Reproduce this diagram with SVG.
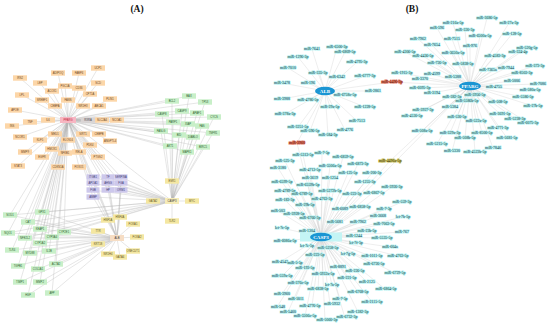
<svg xmlns="http://www.w3.org/2000/svg" width="550" height="326" viewBox="0 0 550 326">
<style>
.t{font-family:"Liberation Serif",serif;font-weight:bold;font-size:9.5px;fill:#111;text-anchor:middle}
.e{fill:none;stroke:#b8b8b8;stroke-width:.35}
.eb{fill:none;stroke:#cfcfcf;stroke-width:.35}
.n text{font-family:"Liberation Sans",sans-serif;font-size:2.7px;text-anchor:middle}
.o rect{fill:#fcd6a8}.o text{fill:#6b4420}
.g rect{fill:#c8efc8}.g text{fill:#2d5e2d}
.p rect{fill:#cdc8ec}.p text{fill:#3c3870}
.y rect{fill:#f4e7a2}.y text{fill:#5e5220}
.m text{font-family:"Liberation Serif",serif;font-size:3.9px;text-anchor:middle;fill:#1d3440;stroke:#aef2f2;stroke-width:1.2;paint-order:stroke;stroke-linejoin:round}
.m.r text{stroke:#e0705a;fill:#5a1a10}
.m.v text{stroke:#c9bf5a;fill:#3a3410}
.h ellipse{fill:#1b95d3}
.h text{font-family:"Liberation Serif",serif;font-size:5px;font-weight:bold;fill:#fff;text-anchor:middle}
</style>
<rect width="550" height="326" fill="#fff"/>
<text class="t" x="137" y="12">(A)</text>
<text class="t" x="412" y="12">(B)</text>

<g id="connectors">
<path class="e" d="M68 120L20 78M68 120L40 83M68 120L58 73M68 120L79 73M68 120L98 68M68 120L65 86M68 120L79 88M68 120L98 83M68 120L22 95M68 120L52 91M68 120L90 94M68 120L42 100M68 120L68 100M68 120L110 99M68 120L55 106M68 120L83 106M68 120L99 106M68 120L15 110M68 120L48 120M68 120L30 122M68 120L12 126M68 120L88 120M68 120L102 120M68 120L117 120M68 120L20 137M68 120L55 134M68 120L83 134M68 120L99 134M68 120L40 140M68 120L68 140M68 120L110 141M68 120L90 145M68 120L52 149M68 120L25 152M68 120L65 153M68 120L79 152M68 120L98 157M68 120L42 157M68 120L58 167M68 120L79 167M68 120L18 166"/>
<path class="e" d="M68 120L172 101M68 120L189 96M68 120L205 102M68 120L162 114M68 120L182 111M68 120L197 113M68 120L214 117M68 120L173 122M68 120L188 124M68 120L202 126M68 120L161 131M68 120L179 135M68 120L193 137M68 120L213 133M68 120L170 146M68 120L187 152M68 120L203 147M68 120L172 201M68 120L117 238M68 120L93 177M68 120L108 177M68 120L121 177M68 120L93 183M68 120L108 183M68 120L121 183M68 120L93 190M68 120L108 190M68 120L121 190M68 120L93 197M68 120L10 215M68 120L28 222M68 120L42 212M68 120L8 233M68 120L25 238M68 120L40 229M68 120L64 232M68 120L52 237M68 120L40 243M68 120L12 250M68 120L30 253M68 120L49 251M68 120L18 266M68 120L38 269M68 120L56 264M68 120L20 282M68 120L40 282M68 120L28 295M68 120L52 293"/>
<path class="e" d="M172 201L172 101M172 201L189 96M172 201L205 102M172 201L162 114M172 201L182 111M172 201L197 113M172 201L214 117M172 201L173 122M172 201L188 124M172 201L202 126M172 201L161 131M172 201L179 135M172 201L193 137M172 201L213 133M172 201L170 146M172 201L187 152M172 201L203 147M172 201L172 181M172 201L153 201M172 201L192 201M172 201L172 221M172 201L93 177M172 201L108 177M172 201L121 177M172 201L93 183M172 201L108 183M172 201L121 183M172 201L93 190M172 201L108 190M172 201L121 190M172 201L93 197M172 201L10 215M172 201L42 212M172 201L28 222M172 201L40 229M172 201L64 232M172 201L8 233M172 201L52 237M172 201L25 238"/>
<path class="e" d="M117 238L108 220M117 238L120 217M117 238L133 224M117 238L137 237M117 238L133 251M117 238L120 257M117 238L108 254M117 238L98 244M117 238L98 231M117 238L93 177M117 238L108 177M117 238L121 177M117 238L93 183M117 238L108 183M117 238L121 183M117 238L93 190M117 238L108 190M117 238L121 190M117 238L93 197M117 238L10 215M117 238L28 222M117 238L42 212M117 238L8 233M117 238L25 238M117 238L40 229M117 238L64 232M117 238L52 237M117 238L40 243M117 238L12 250M117 238L30 253M117 238L49 251M117 238L18 266M117 238L38 269M117 238L56 264M117 238L20 282M117 238L40 282M117 238L28 295M117 238L52 293"/>
<path class="eb" d="M325 91L337 47M325 91L312 49M325 91L345 52M325 91L298 57M325 91L357 62M325 91L288 68M325 91L318 73M325 91L337 77M325 91L365 76M325 91L282 83M325 91L308 83M325 91L373 91M325 91L345 95M325 91L282 99M325 91L308 100M325 91L330 107M325 91L365 107M325 91L285 114M325 91L357 121M325 91L298 127M325 91L310 131M325 91L345 130M325 91L328 135M325 91L297 143M325 91L392 82"/>
<path class="eb" d="M470 86L487 18M470 86L453 23M470 86L509 23M470 86L437 28M470 86L465 30M470 86L512 34M470 86L480 36M470 86L418 39M470 86L452 39M470 86L432 45M470 86L470 46M470 86L527 48M470 86L453 53M470 86L405 52M470 86L423 56M470 86L495 56M470 86L518 52M470 86L437 63M470 86L463 64M470 86L535 66M470 86L488 70M470 86L506 68M470 86L520 73M470 86L432 74M470 86L402 73M470 86L453 77M470 86L420 79M470 86L512 81M470 86L538 84M470 86L492 87M470 86L530 90M470 86L420 88M470 86L432 93M470 86L452 97M470 86L473 97M470 86L523 97M470 86L467 101M470 86L498 102M470 86L450 107M470 86L423 110M470 86L533 106M470 86L412 116M470 86L457 117M470 86L476 121M470 86L500 114M470 86L515 119M470 86L528 123M470 86L422 131M470 86L498 128M470 86L450 133M470 86L482 133M470 86L507 138M470 86L465 138M470 86L437 144M470 86L493 148M470 86L452 151M470 86L475 152M470 86L392 82M470 86L390 161M470 86L321 237"/>
<path class="eb" d="M321 237L322 153M321 237L303 155M321 237L343 157M321 237L285 161M321 237L358 164M321 237L330 166M321 237L278 168M321 237L310 170M321 237L348 173M321 237L372 173M321 237L282 182M321 237L310 178M321 237L330 178M321 237L365 182M321 237L308 185M321 237L392 187M321 237L285 191M321 237L330 191M321 237L302 194M321 237L350 194M321 237L372 193M321 237L285 200M321 237L322 199M321 237L305 205M321 237L402 202M321 237L278 211M321 237L292 214M321 237L340 209M321 237L360 207M321 237L383 209M321 237L310 218M321 237L335 222M321 237L360 222M321 237L378 216M321 237L402 217M321 237L383 224M321 237L282 228M321 237L307 231M321 237L367 231M321 237L402 232M321 237L352 236M321 237L382 238M321 237L285 241M321 237L307 246M321 237L355 243M321 237L325 248M321 237L390 247M321 237L315 255M321 237L348 254M321 237L370 256M321 237L398 256M321 237L280 262M321 237L294 263M321 237L303 268M321 237L340 267M321 237L353 271M321 237L372 264M321 237L282 276M321 237L323 274M321 237L347 278M321 237L395 273M321 237L298 283M321 237L332 285M321 237L367 282M321 237L282 294M321 237L318 289M321 237L358 292M321 237L385 289M321 237L295 299M321 237L340 299M321 237L372 302M321 237L277 307M321 237L312 306M321 237L330 304M321 237L288 312M321 237L358 312M321 237L305 316M321 237L325 320M321 237L345 318M321 237L297 143M321 237L390 161"/>
</g>

<!-- Panel A: orange cluster -->
<g id="a-hub-pparg" class="n"><rect x="60" y="117" width="16" height="6" fill="#f7b6c2"/><text x="68" y="121" fill="#c0203a">PPARG</text></g>
<g id="a-irs2" class="n o"><rect x="13" y="75.3" width="14" height="5.4"/><text x="20" y="79">IRS2</text></g>
<g id="a-lep" class="n o"><rect x="33" y="80.3" width="14" height="5.4"/><text x="40" y="84">LEP</text></g>
<g id="a-adipoq" class="n o"><rect x="51" y="70.3" width="14" height="5.4"/><text x="58" y="74">ADIPOQ</text></g>
<g id="a-fabp4" class="n o"><rect x="72" y="70.3" width="14" height="5.4"/><text x="79" y="74">FABP4</text></g>
<g id="a-ucp1" class="n o"><rect x="91" y="65.3" width="14" height="5.4"/><text x="98" y="69">UCP1</text></g>
<g id="a-pgc1a" class="n o"><rect x="58" y="83.3" width="14" height="5.4"/><text x="65" y="87">PGC1A</text></g>
<g id="a-cd36" class="n o"><rect x="72" y="85.3" width="14" height="5.4"/><text x="79" y="89">CD36</text></g>
<g id="a-scd" class="n o"><rect x="91" y="80.3" width="14" height="5.4"/><text x="98" y="84">SCD</text></g>
<g id="a-lpl" class="n o"><rect x="15" y="92.3" width="14" height="5.4"/><text x="22" y="96">LPL</text></g>
<g id="a-acox1" class="n o"><rect x="45" y="88.3" width="14" height="5.4"/><text x="52" y="92">ACOX1</text></g>
<g id="a-cpt1a" class="n o"><rect x="83" y="91.3" width="14" height="5.4"/><text x="90" y="95">CPT1A</text></g>
<g id="a-srebf1" class="n o"><rect x="35" y="97.3" width="14" height="5.4"/><text x="42" y="101">SREBF1</text></g>
<g id="a-fasn" class="n o"><rect x="61" y="97.3" width="14" height="5.4"/><text x="68" y="101">FASN</text></g>
<g id="a-plin1" class="n o"><rect x="103" y="96.3" width="14" height="5.4"/><text x="110" y="100">PLIN1</text></g>
<g id="a-cebpa" class="n o"><rect x="48" y="103.3" width="14" height="5.4"/><text x="55" y="107">CEBPA</text></g>
<g id="a-nr1h3" class="n o"><rect x="76" y="103.3" width="14" height="5.4"/><text x="83" y="107">NR1H3</text></g>
<g id="a-abca1" class="n o"><rect x="92" y="103.3" width="14" height="5.4"/><text x="99" y="107">ABCA1</text></g>
<g id="a-apoe" class="n o"><rect x="8" y="107.3" width="14" height="5.4"/><text x="15" y="111">APOE</text></g>
<g id="a-il6" class="n o"><rect x="41" y="117.3" width="14" height="5.4"/><text x="48" y="121">IL6</text></g>
<g id="a-tnf" class="n o"><rect x="23" y="119.3" width="14" height="5.4"/><text x="30" y="123">TNF</text></g>
<g id="a-ins" class="n o"><rect x="5" y="123.3" width="14" height="5.4"/><text x="12" y="127">INS</text></g>
<g id="a-rxra" class="n"><rect x="81" y="117.3" width="14" height="5.4" fill="#d9d4d4"/><text x="88" y="121" fill="#444">RXRA</text></g>
<g id="a-slc2a4" class="n o"><rect x="95" y="117.3" width="14" height="5.4"/><text x="102" y="121">SLC2A4</text></g>
<g id="a-ncoa1" class="n o"><rect x="110" y="117.3" width="14" height="5.4"/><text x="117" y="121">NCOA1</text></g>
<g id="a-ncor1" class="n o"><rect x="13" y="134.3" width="14" height="5.4"/><text x="20" y="138">NCOR1</text></g>
<g id="a-med1" class="n o"><rect x="48" y="131.3" width="14" height="5.4"/><text x="55" y="135">MED1</text></g>
<g id="a-sirt1" class="n o"><rect x="76" y="131.3" width="14" height="5.4"/><text x="83" y="135">SIRT1</text></g>
<g id="a-cebpb" class="n o"><rect x="92" y="131.3" width="14" height="5.4"/><text x="99" y="135">CEBPB</text></g>
<g id="a-klf5" class="n o"><rect x="33" y="137.3" width="14" height="5.4"/><text x="40" y="141">KLF5</text></g>
<g id="a-elovl6" class="n o"><rect x="61" y="137.3" width="14" height="5.4"/><text x="68" y="141">ELOVL6</text></g>
<g id="a-angptl4" class="n o"><rect x="103" y="138.3" width="14" height="5.4"/><text x="110" y="142">ANGPTL4</text></g>
<g id="a-pdk4" class="n o"><rect x="83" y="142.3" width="14" height="5.4"/><text x="90" y="146">PDK4</text></g>
<g id="a-hmox1" class="n o"><rect x="45" y="146.3" width="14" height="5.4"/><text x="52" y="150">HMOX1</text></g>
<g id="a-mmp9" class="n o"><rect x="18" y="149.3" width="14" height="5.4"/><text x="25" y="153">MMP9</text></g>
<g id="a-nfkb1" class="n o"><rect x="58" y="150.3" width="14" height="5.4"/><text x="65" y="154">NFKB1</text></g>
<g id="a-rela" class="n o"><rect x="72" y="149.3" width="14" height="5.4"/><text x="79" y="153">RELA</text></g>
<g id="a-ptgs2" class="n o"><rect x="91" y="154.3" width="14" height="5.4"/><text x="98" y="158">PTGS2</text></g>
<g id="a-egfr" class="n o"><rect x="35" y="154.3" width="14" height="5.4"/><text x="42" y="158">EGFR</text></g>
<g id="a-cdkn1a" class="n o"><rect x="51" y="164.3" width="14" height="5.4"/><text x="58" y="168">CDKN1A</text></g>
<g id="a-foxo1" class="n o"><rect x="72" y="164.3" width="14" height="5.4"/><text x="79" y="168">FOXO1</text></g>
<g id="a-stat3" class="n o"><rect x="11" y="163.3" width="14" height="5.4"/><text x="18" y="167">STAT3</text></g>

<!-- Panel A: green right cluster -->
<g id="a-bcl2" class="n g"><rect x="165" y="98.3" width="14" height="5.4"/><text x="172" y="102">BCL2</text></g>
<g id="a-bax" class="n g"><rect x="182" y="93.3" width="14" height="5.4"/><text x="189" y="97">BAX</text></g>
<g id="a-tp53" class="n g"><rect x="198" y="99.3" width="14" height="5.4"/><text x="205" y="103">TP53</text></g>
<g id="a-casp8" class="n g"><rect x="155" y="111.3" width="14" height="5.4"/><text x="162" y="115">CASP8</text></g>
<g id="a-casp9" class="n g"><rect x="175" y="108.3" width="14" height="5.4"/><text x="182" y="112">CASP9</text></g>
<g id="a-apaf1" class="n g"><rect x="190" y="110.3" width="14" height="5.4"/><text x="197" y="114">APAF1</text></g>
<g id="a-cycs" class="n g"><rect x="207" y="114.3" width="14" height="5.4"/><text x="214" y="118">CYCS</text></g>
<g id="a-parp1" class="n g"><rect x="166" y="119.3" width="14" height="5.4"/><text x="173" y="123">PARP1</text></g>
<g id="a-xiap" class="n g"><rect x="181" y="121.3" width="14" height="5.4"/><text x="188" y="125">XIAP</text></g>
<g id="a-fas" class="n g"><rect x="195" y="123.3" width="14" height="5.4"/><text x="202" y="127">FAS</text></g>
<g id="a-faslg" class="n g"><rect x="154" y="128.3" width="14" height="5.4"/><text x="161" y="132">FASLG</text></g>
<g id="a-bid" class="n g"><rect x="172" y="132.3" width="14" height="5.4"/><text x="179" y="136">BID</text></g>
<g id="a-diablo" class="n g"><rect x="186" y="134.3" width="14" height="5.4"/><text x="193" y="138">DIABLO</text></g>
<g id="a-tnfr1" class="n g"><rect x="206" y="130.3" width="14" height="5.4"/><text x="213" y="134">TNFR1</text></g>
<g id="a-akt1" class="n g"><rect x="163" y="143.3" width="14" height="5.4"/><text x="170" y="147">AKT1</text></g>
<g id="a-mapk1" class="n g"><rect x="180" y="149.3" width="14" height="5.4"/><text x="187" y="153">MAPK1</text></g>
<g id="a-birc5" class="n g"><rect x="196" y="144.3" width="14" height="5.4"/><text x="203" y="148">BIRC5</text></g>

<!-- Panel A: green left cluster -->
<g id="a-sod1" class="n g"><rect x="3" y="212.3" width="14" height="5.4"/><text x="10" y="216">SOD1</text></g>
<g id="a-cat" class="n g"><rect x="21" y="219.3" width="14" height="5.4"/><text x="28" y="223">CAT</text></g>
<g id="a-gpx1" class="n g"><rect x="35" y="209.3" width="14" height="5.4"/><text x="42" y="213">GPX1</text></g>
<g id="a-nqo1" class="n g"><rect x="1" y="230.3" width="14" height="5.4"/><text x="8" y="234">NQO1</text></g>
<g id="a-nfe2l2" class="n g"><rect x="18" y="235.3" width="14" height="5.4"/><text x="25" y="239">NFE2L2</text></g>
<g id="a-keap1" class="n g"><rect x="33" y="226.3" width="14" height="5.4"/><text x="40" y="230">KEAP1</text></g>
<g id="a-cyp2e1" class="n g"><rect x="57" y="229.3" width="14" height="5.4"/><text x="64" y="233">CYP2E1</text></g>
<g id="a-cyp3a4" class="n g"><rect x="45" y="234.3" width="14" height="5.4"/><text x="52" y="238">CYP3A4</text></g>
<g id="a-cyp1a2" class="n g"><rect x="33" y="240.3" width="14" height="5.4"/><text x="40" y="244">CYP1A2</text></g>
<g id="a-tlr4" class="n g"><rect x="5" y="247.3" width="14" height="5.4"/><text x="12" y="251">TLR4</text></g>
<g id="a-myd88" class="n g"><rect x="23" y="250.3" width="14" height="5.4"/><text x="30" y="254">MYD88</text></g>
<g id="a-il1b" class="n g"><rect x="42" y="248.3" width="14" height="5.4"/><text x="49" y="252">IL1B</text></g>
<g id="a-tgfb1" class="n g"><rect x="11" y="263.3" width="14" height="5.4"/><text x="18" y="267">TGFB1</text></g>
<g id="a-col1a1" class="n g"><rect x="31" y="266.3" width="14" height="5.4"/><text x="38" y="270">COL1A1</text></g>
<g id="a-acta2" class="n g"><rect x="49" y="261.3" width="14" height="5.4"/><text x="56" y="265">ACTA2</text></g>
<g id="a-timp1" class="n g"><rect x="13" y="279.3" width="14" height="5.4"/><text x="20" y="283">TIMP1</text></g>
<g id="a-mmp2" class="n g"><rect x="33" y="279.3" width="14" height="5.4"/><text x="40" y="283">MMP2</text></g>
<g id="a-hgf" class="n g"><rect x="21" y="292.3" width="14" height="5.4"/><text x="28" y="296">HGF</text></g>
<g id="a-afp" class="n g"><rect x="45" y="290.3" width="14" height="5.4"/><text x="52" y="294">AFP</text></g>

<!-- Panel A: purple grid -->
<g id="a-itgb1" class="n p"><rect x="86.5" y="174.3" width="13" height="5.4"/><text x="93" y="178">ITGB1</text></g>
<g id="a-tf" class="n p"><rect x="101.5" y="174.3" width="13" height="5.4"/><text x="108" y="178">TF</text></g>
<g id="a-serpina" class="n p"><rect x="114.5" y="174.3" width="13" height="5.4"/><text x="121" y="178">SERPINA</text></g>
<g id="a-apoa1" class="n p"><rect x="86.5" y="180.3" width="13" height="5.4"/><text x="93" y="184">APOA1</text></g>
<g id="a-ahsg" class="n p"><rect x="101.5" y="180.3" width="13" height="5.4"/><text x="108" y="184">AHSG</text></g>
<g id="a-fga" class="n p"><rect x="114.5" y="180.3" width="13" height="5.4"/><text x="121" y="184">FGA</text></g>
<g id="a-fgb" class="n p"><rect x="86.5" y="187.3" width="13" height="5.4"/><text x="93" y="191">FGB</text></g>
<g id="a-hp" class="n p"><rect x="101.5" y="187.3" width="13" height="5.4"/><text x="108" y="191">HP</text></g>
<g id="a-orm1" class="n p"><rect x="114.5" y="187.3" width="13" height="5.4"/><text x="121" y="191">ORM1</text></g>
<g id="a-ambp" class="n p"><rect x="86.5" y="194.3" width="13" height="5.4"/><text x="93" y="198">AMBP</text></g>

<!-- Panel A: yellow hubs -->
<g id="a-hub-casp3" class="n"><rect x="165" y="198" width="14" height="6" fill="#f6ecb8"/><text x="172" y="202" fill="#333">CASP3</text></g>
<g id="a-esr1" class="n y"><rect x="165" y="178.3" width="14" height="5.4"/><text x="172" y="182">ESR1</text></g>
<g id="a-gata2" class="n y"><rect x="146" y="198.3" width="14" height="5.4"/><text x="153" y="202">GATA2</text></g>
<g id="a-myc" class="n y"><rect x="185" y="198.3" width="14" height="5.4"/><text x="192" y="202">MYC</text></g>
<g id="a-tlr2" class="n y"><rect x="165" y="218.3" width="14" height="5.4"/><text x="172" y="222">TLR2</text></g>
<g id="a-hub-alb" class="n"><rect x="110" y="235" width="14" height="6" fill="#f6ddc4"/><text x="117" y="239" fill="#333">ALB</text></g>
<g id="a-hnf1a" class="n y"><rect x="101" y="217.3" width="14" height="5.4"/><text x="108" y="221">HNF1A</text></g>
<g id="a-hnf4a" class="n y"><rect x="113" y="214.3" width="14" height="5.4"/><text x="120" y="218">HNF4A</text></g>
<g id="a-foxa1" class="n y"><rect x="126" y="221.3" width="14" height="5.4"/><text x="133" y="225">FOXA1</text></g>
<g id="a-foxa2" class="n y"><rect x="130" y="234.3" width="14" height="5.4"/><text x="137" y="238">FOXA2</text></g>
<g id="a-onecut1" class="n y"><rect x="126" y="248.3" width="14" height="5.4"/><text x="133" y="252">ONECUT1</text></g>
<g id="a-gata4" class="n y"><rect x="113" y="254.3" width="14" height="5.4"/><text x="120" y="258">GATA4</text></g>
<g id="a-nr1h4" class="n y"><rect x="101" y="251.3" width="14" height="5.4"/><text x="108" y="255">NR1H4</text></g>
<g id="a-krt18" class="n y"><rect x="91" y="241.3" width="14" height="5.4"/><text x="98" y="245">KRT18</text></g>
<g id="a-ttr" class="n y"><rect x="91" y="228.3" width="14" height="5.4"/><text x="98" y="232">TTR</text></g>

<!-- Panel B hubs -->
<rect x="300" y="232.5" width="42" height="9" fill="#c4f5f5"/>
<g id="b-alb" class="h"><ellipse cx="325" cy="91" rx="10" ry="4.3"/><text x="325" y="92.8">ALB</text></g>
<g id="b-pparg" class="h"><ellipse cx="470" cy="86" rx="11" ry="4.3"/><text x="470" y="87.8">PPARG</text></g>
<g id="b-casp3" class="h"><ellipse cx="321" cy="237" rx="11" ry="4.3"/><text x="321" y="238.8">CASP3</text></g>

<!-- Panel B: ALB miRNAs -->
<g id="b-alb-mirnas" class="m">
<text x="337" y="48.4">miR-6500-3p</text><text x="312" y="50.4">miR-7641</text><text x="345" y="53.4">miR-6809-5p</text><text x="298" y="58.4">miR-1296-3p</text><text x="357" y="63.4">miR-4795-3p</text><text x="288" y="69.4">miR-7010</text><text x="318" y="74.4">miR-335-3p</text><text x="337" y="78.4">miR-6342</text><text x="365" y="77.4">miR-6777-3p</text><text x="282" y="84.4">miR-3478</text><text x="308" y="84.4">miR-196</text><text x="373" y="92.4">miR-2861</text><text x="345" y="96.4">miR-6758c-5p</text><text x="282" y="100.4">miR-3988</text><text x="308" y="101.4">miR-4786-5p</text><text x="330" y="108.4">miR-29a-5p</text><text x="365" y="108.4">miR-1228-5p</text><text x="285" y="115.4">miR-378a-3p</text><text x="357" y="122.4">miR-7513</text><text x="298" y="128.4">miR-3251-5p</text><text x="310" y="132.4">miR-596-5p</text><text x="345" y="131.4">miR-4776</text><text x="328" y="136.4">miR-584-3p</text>
</g>
<g id="b-shared" class="m r"><text x="297" y="144.4">miR-3960</text><text x="392" y="83.4">miR-4496-3p</text></g>
<g id="b-shared2" class="m v"><text x="390" y="162.4">miR-4496a-5p</text></g>

<!-- Panel B: PPARG miRNAs -->
<g id="b-pparg-mirnas" class="m">
<text x="487" y="19.4">miR-3686-5p</text><text x="453" y="24.4">miR-216a-5p</text><text x="509" y="24.4">miR-27a-3p</text><text x="437" y="29.4">miR-596</text><text x="465" y="31.4">miR-330-3p</text><text x="512" y="35.4">miR-128-5p</text><text x="480" y="37.4">miR-6500a-5p</text><text x="418" y="40.4">miR-7962</text><text x="452" y="40.4">miR-7515</text><text x="432" y="46.4">miR-7654</text><text x="470" y="47.4">miR-976</text><text x="527" y="49.4">miR-520g-5p</text><text x="453" y="54.4">miR-3650a-5p</text><text x="405" y="53.4">miR-4306-5p</text><text x="423" y="57.4">miR-4436-5p</text><text x="495" y="57.4">miR-4583-3p</text><text x="518" y="53.4">miR-324-4p</text><text x="437" y="64.4">miR-726-5p</text><text x="463" y="65.4">miR-5838-5p</text><text x="535" y="67.4">miR-373-3p</text><text x="488" y="71.4">miR-7365a</text><text x="506" y="69.4">miR-7944</text><text x="522" y="74.4">miR-8503-3p</text><text x="432" y="75.4">miR-4599</text><text x="402" y="74.4">miR-1915-3p</text><text x="453" y="78.4">miR-5388</text><text x="420" y="80.4">miR-3370</text><text x="512" y="82.4">miR-5006</text><text x="538" y="85.4">miR-7086</text><text x="494" y="88.4">miR-4755</text><text x="530" y="91.4">miR-580a-5p</text><text x="420" y="89.4">miR-6095-3p</text><text x="432" y="94.4">miR-3194</text><text x="452" y="98.4">miR-382-3p</text><text x="475" y="96.4">miR-3956-5p</text><text x="523" y="98.4">miR-5586-5p</text><text x="467" y="102.4">miR-5586b-5p</text><text x="498" y="103.4">miR-508-5p</text><text x="450" y="108.4">miR-5384</text><text x="423" y="111.4">miR-3927-3p</text><text x="533" y="107.4">miR-27b-5p</text><text x="412" y="117.4">miR-4530-5p</text><text x="457" y="118.4">miR-530-5p</text><text x="476" y="122.4">miR-522a-5p</text><text x="500" y="115.4">miR-3691-5p</text><text x="515" y="120.4">miR-5238-3p</text><text x="528" y="124.4">miR-6075-3p</text><text x="422" y="132.4">miR-508a-5p</text><text x="498" y="129.4">miR-4771-3p</text><text x="450" y="134.4">miR-329a-3p</text><text x="482" y="134.4">miR-8500-5p</text><text x="507" y="139.4">miR-5681-5p</text><text x="465" y="139.4">miR-508b-5p</text><text x="437" y="145.4">miR-5215-5p</text><text x="493" y="149.4">miR-7846</text><text x="452" y="152.4">miR-5330</text><text x="475" y="153.4">miR-4523b-5p</text>
</g>

<!-- Panel B: CASP3 miRNAs -->
<g id="b-casp3-mirnas" class="m">
<text x="322" y="154.4">miR-7-5p</text><text x="303" y="156.4">miR-5313-5p</text><text x="343" y="158.4">miR-6859-5p</text><text x="285" y="162.4">miR-525-3p</text><text x="358" y="165.4">miR-6873-3p</text><text x="330" y="167.4">miR-5506a-5p</text><text x="278" y="169.4">miR-3180</text><text x="310" y="171.4">miR-4713-5p</text><text x="348" y="174.4">miR-125-5p</text><text x="372" y="174.4">miR-200-3p</text><text x="282" y="183.4">miR-6599-5p</text><text x="310" y="179.4">miR-3619</text><text x="330" y="179.4">miR-1254</text><text x="365" y="183.4">miR-1255-3p</text><text x="308" y="186.4">miR-6559b-5p</text><text x="392" y="188.4">miR-3926-3p</text><text x="285" y="192.4">miR-4789-5p</text><text x="330" y="192.4">miR-5272b-5p</text><text x="302" y="195.4">miR-6789-5p</text><text x="352" y="195.4">miR-223-3p</text><text x="374" y="194.4">miR-6867-5p</text><text x="285" y="201.4">miR-183-3p</text><text x="322" y="200.4">miR-4763-3p</text><text x="305" y="206.4">miR-29b-5p</text><text x="402" y="203.4">miR-559-3p</text><text x="278" y="212.4">miR-503</text><text x="294" y="215.4">miR-3928-5p</text><text x="340" y="210.4">miR-6089</text><text x="360" y="208.4">miR-6858-5p</text><text x="384" y="210.4">miR-7-3p</text><text x="310" y="219.4">miR-6766-3p</text><text x="335" y="223.4">miR-5681</text><text x="358" y="223.4">miR-7962</text><text x="378" y="217.4">miR-3668</text><text x="403" y="218.4">let-7b-5p</text><text x="384" y="225.4">miR-7063-5p</text><text x="282" y="229.4">let-7c-5p</text><text x="307" y="232.4">miR-1304</text><text x="367" y="232.4">miR-23b-5p</text><text x="402" y="233.4">miR-767</text><text x="354" y="237.4">miR-1244</text><text x="382" y="239.4">miR-5535-5p</text><text x="285" y="242.4">miR-6086a-5p</text><text x="307" y="247.4">let-7e-5p</text><text x="356" y="244.4">let-7f-5p</text><text x="328" y="249.4">miR-5258-5p</text><text x="390" y="248.4">miR-604a</text><text x="315" y="256.4">miR-223-5p</text><text x="348" y="255.4">let-7g-5p</text><text x="372" y="257.4">miR-1011-5p</text><text x="398" y="257.4">miR-4763-5p</text><text x="280" y="263.4">miR-4543</text><text x="295" y="264.4">miR-5-5p</text><text x="305" y="269.4">miR-193-5p</text><text x="338" y="268.4">miR-8891</text><text x="355" y="272.4">miR-226-5p</text><text x="374" y="265.4">miR-6726-5p</text><text x="282" y="277.4">miR-559a-5p</text><text x="323" y="275.4">miR-5932a-5p</text><text x="347" y="279.4">miR-221-5p</text><text x="395" y="274.4">miR-6729-5p</text><text x="298" y="284.4">miR-376c-5p</text><text x="332" y="286.4">let-7a-5p</text><text x="367" y="283.4">miR-2125</text><text x="282" y="295.4">miR-3960</text><text x="318" y="290.4">miR-6838-5p</text><text x="358" y="293.4">miR-6768-5p</text><text x="386" y="290.4">miR-6864-5p</text><text x="296" y="300.4">miR-5011</text><text x="340" y="300.4">miR-7-5p</text><text x="372" y="303.4">miR-2115-5p</text><text x="278" y="308.4">miR-548</text><text x="310" y="307.4">miR-4776-5p</text><text x="332" y="305.4">miR-5932</text><text x="288" y="313.4">miR-5460</text><text x="358" y="313.4">miR-1382-3p</text><text x="305" y="317.4">miR-5506c-5p</text><text x="327" y="321.4">miR-5060-3p</text><text x="347" y="318.4">miR-6732-3p</text>
</g>
</svg>
